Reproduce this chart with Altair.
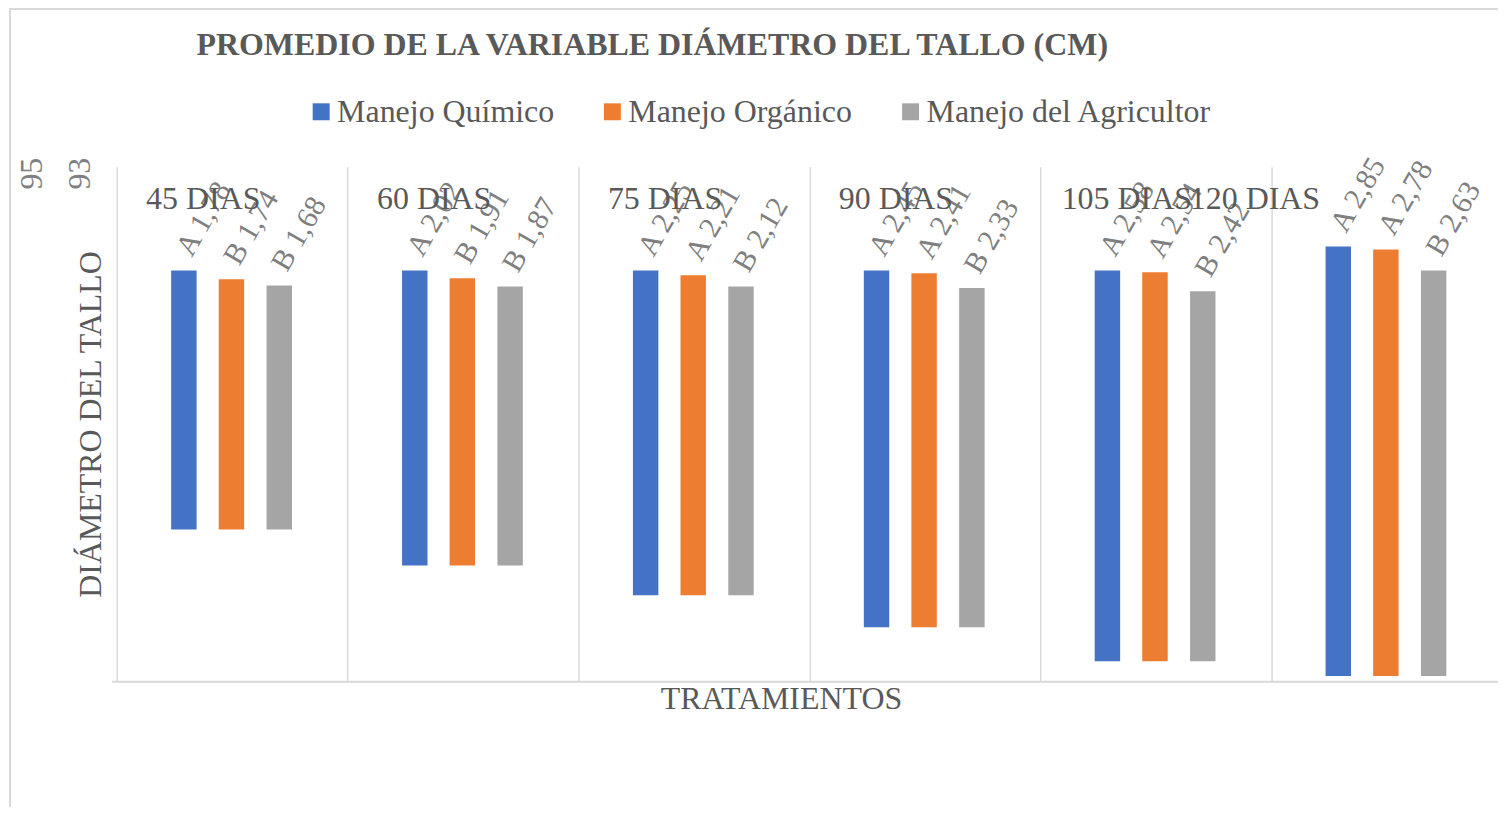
import altair as alt
import pandas as pd

# ---- data ----
titulo = "PROMEDIO DE LA VARIABLE DIÁMETRO DEL TALLO (CM)"
dias = ["45 DIAS", "60 DIAS", "75 DIAS", "90 DIAS", "105 DIAS", "120 DIAS"]
series = ["Manejo Químico", "Manejo Orgánico", "Manejo del Agricultor"]
colors = ["#4472C4", "#ED7D31", "#A5A5A5"]

# floating bars (chart units 0-100 on the value axis)
top_quimico = [79.8, 79.8, 79.8, 79.8, 79.8, 84.5]
top_organico = [78.1, 78.3, 78.9, 79.3, 79.5, 83.9]
top_agricultor = [76.9, 76.7, 76.7, 76.4, 75.8, 79.8]
base = [29.5, 22.5, 16.7, 10.5, 3.9, 1.0]

letra_quimico = ["A", "A", "A", "A", "A", "A"]
letra_organico = ["B", "B", "A", "A", "A", "A"]
letra_agricultor = ["B", "B", "B", "B", "B", "B"]
valor_quimico = ["1,78", "2,02", "2,25", "2,45", "2,58", "2,85"]
valor_organico = ["1,74", "1,91", "2,21", "2,41", "2,54", "2,78"]
valor_agricultor = ["1,68", "1,87", "2,12", "2,33", "2,42", "2,63"]

tick_labels = ["95", "93"]

# ---- layout constants ----
series_offset = [-0.209, -0.003, 0.204]
label_x = [0.375, 1.375, 2.375, 3.375, 4.375, 4.93]
tick_px = [-80, -32]

tops = [top_quimico, top_organico, top_agricultor]
letras = [letra_quimico, letra_organico, letra_agricultor]
valores = [valor_quimico, valor_organico, valor_agricultor]

rows = []
for s, name in enumerate(series):
    for i, d in enumerate(dias):
        rows.append({
            "dia": d,
            "serie": name,
            "pos": i + 0.5 + series_offset[s],
            "top": tops[s][i],
            "base": base[i],
            "ly": tops[s][i] + 3.3,
            "label": f"{letras[s][i]} {valores[s][i]}",
        })
df = pd.DataFrame(rows)
df_cat = pd.DataFrame({"dia": dias, "lx": label_x})

FONT = "Liberation Serif, Times New Roman, serif"
TXT = "#595959"
GRID = "#d9d9d9"

xscale = alt.Scale(domain=[0, 6], range=[0, 1399], nice=False, zero=False)
yscale = alt.Scale(domain=[0, 100], nice=False, zero=False)

bars = alt.Chart(df).mark_bar(size=25.5).encode(
    x=alt.X("pos:Q", scale=xscale,
            axis=alt.Axis(values=[0, 1, 2, 3, 4, 5, 6], grid=True, gridColor=GRID,
                          gridWidth=1.5, labels=False, ticks=False,
                          domainColor=GRID, domainWidth=2,
                          title="TRATAMIENTOS", titleFont=FONT, titleFontSize=32,
                          titleFontWeight="normal", titleColor=TXT,
                          titleX=671, titlePadding=2)),
    y=alt.Y("top:Q", scale=yscale,
            axis=alt.Axis(labels=False, ticks=False, domain=False, grid=False,
                          title="DIÁMETRO DEL TALLO", titleFont=FONT, titleFontSize=32,
                          titleFontWeight="normal", titleColor=TXT, titlePadding=4)),
    y2="base:Q",
    color=alt.Color("serie:N", scale=alt.Scale(domain=series, range=colors), sort=series,
                    legend=alt.Legend(orient="none", legendX=194, legendY=-71,
                                      direction="horizontal", title=None,
                                      symbolType="square", symbolSize=289,
                                      symbolStrokeWidth=0, labelFont=FONT,
                                      labelFontSize=32, labelColor=TXT, labelOffset=0,
                                      labelLimit=600, columnPadding=42, padding=0)),
)

labels = alt.Chart(df).mark_text(font=FONT, fontSize=30, color="#7f7f7f",
                                 align="left", baseline="middle", angle=300).encode(
    x=alt.X("pos:Q"),
    y=alt.Y("ly:Q"),
    text="label:N",
)

cats = alt.Chart(df_cat).mark_text(font=FONT, fontSize=32, color=TXT,
                                   align="center", baseline="middle").encode(
    x=alt.X("lx:Q"),
    y=alt.value(32),
    text="dia:N",
)

title_mark = alt.Chart(pd.DataFrame({"t": [titulo]})).mark_text(
    font=FONT, fontSize=32, fontWeight="bold", color=TXT,
    align="left", baseline="alphabetic").encode(
    x=alt.value(85), y=alt.value(-112), text="t:N")

layers = [bars, labels, cats, title_mark]
for t, px in zip(tick_labels, tick_px):
    layers.append(
        alt.Chart(pd.DataFrame({"t": [t]})).mark_text(
            font=FONT, fontSize=32, color="#7f7f7f", angle=270,
            align="center", baseline="middle").encode(
            x=alt.value(px), y=alt.value(7), text="t:N")
    )

border = alt.Chart(pd.DataFrame({"a": [0]})).mark_rect(
    fillOpacity=0, stroke=GRID, strokeWidth=2).encode(
    x=alt.value(-102), x2=alt.value(1500), y=alt.value(-158), y2=alt.value(700))
layers.append(border)

chart = alt.layer(*layers).properties(
    width=1390, height=516,
    autosize=alt.AutoSizeParams(type="none"),
    padding={"left": 104, "top": 158, "right": 0, "bottom": 125},
).configure_view(strokeWidth=0)

chart.save("out.html", embed_options={"renderer": "svg", "actions": False})
